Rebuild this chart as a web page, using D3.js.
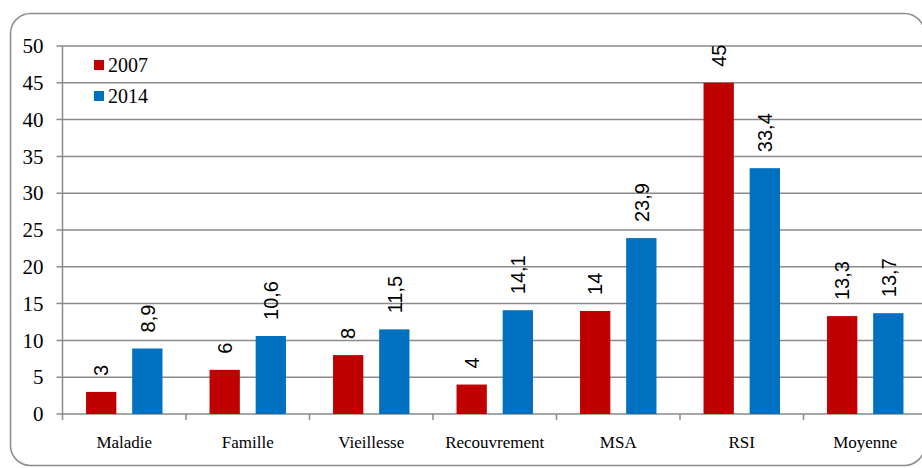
<!DOCTYPE html>
<html>
<head>
<meta charset="utf-8">
<script src="https://cdn.jsdelivr.net/npm/d3@7"></script>
<style>
  html, body { margin: 0; padding: 0; background: #fff; }
  svg { display: block; }
</style>
</head>
<body>
<script>
const categories = ["Maladie", "Famille", "Vieillesse", "Recouvrement", "MSA", "RSI", "Moyenne"];
const seriesNames = ["2007", "2014"];
const values2007 = [3, 6, 8, 4, 14, 45, 13.3];
const values2014 = [8.9, 10.6, 11.5, 14.1, 23.9, 33.4, 13.7];
const labels2007 = ["3", "6", "8", "4", "14", "45", "13,3"];
const labels2014 = ["8,9", "10,6", "11,5", "14,1", "23,9", "33,4", "13,7"];
const yTicks = [0, 5, 10, 15, 20, 25, 30, 35, 40, 45, 50];
const colors = ["#C00000", "#0070C0"];

const W = 922, H = 468;
const svg = d3.select("body").append("svg").attr("width", W).attr("height", H);

// outer rounded frame
svg.append("rect")
  .attr("x", 10.5).attr("y", 13.5)
  .attr("width", 914).attr("height", 452)
  .attr("rx", 20).attr("ry", 20)
  .attr("fill", "#fff")
  .attr("stroke", "#8c8c8c").attr("stroke-width", 1.5);

const x0 = 62.5, x1 = 927, yTop = 46, yBot = 414;
const x = d3.scaleBand().domain(categories).range([x0, x1]);
const xs = d3.scaleBand().domain(seriesNames).range([0, x.bandwidth()]).paddingInner(0.343).paddingOuter(0.51);
const y = d3.scaleLinear().domain([0, 50]).range([yBot, yTop]);
const gridColor = "#8a8a8a";

// gridlines with outer ticks
svg.append("g").selectAll("line")
  .data(yTicks).join("line")
  .attr("x1", x0 - 6).attr("x2", W)
  .attr("y1", d => y(d)).attr("y2", d => y(d))
  .attr("stroke", gridColor).attr("stroke-width", 1.5);

// y tick labels
svg.append("g").selectAll("text")
  .data(yTicks).join("text")
  .attr("x", x0 - 19)
  .attr("y", d => y(d))
  .attr("dy", "0.34em")
  .attr("text-anchor", "end")
  .attr("fill", "#000")
  .attr("font-family", "Liberation Serif")
  .attr("font-size", 21)
  .text(d => d);

// y axis line
svg.append("line")
  .attr("x1", x0).attr("x2", x0)
  .attr("y1", y(50)).attr("y2", y(0) + 6)
  .attr("stroke", gridColor).attr("stroke-width", 1.5);

// category boundary ticks
svg.append("g").selectAll("line")
  .data(categories.slice(1)).join("line")
  .attr("x1", d => x(d)).attr("x2", d => x(d))
  .attr("y1", yBot).attr("y2", yBot + 6)
  .attr("stroke", gridColor).attr("stroke-width", 1.5);

// category labels
svg.append("g").selectAll("text")
  .data(categories).join("text")
  .attr("x", d => x(d) + x.bandwidth() / 2)
  .attr("y", yBot + 34)
  .attr("text-anchor", "middle")
  .attr("fill", "#000")
  .attr("font-family", "Liberation Serif")
  .attr("font-size", 17)
  .text(d => d);

// bars
const data = categories.map((c, i) => ({
  cat: c,
  series: [
    { name: seriesNames[0], value: values2007[i], label: labels2007[i], color: colors[0] },
    { name: seriesNames[1], value: values2014[i], label: labels2014[i], color: colors[1] }
  ]
}));

const groups = svg.append("g").selectAll("g")
  .data(data).join("g")
  .attr("transform", d => `translate(${x(d.cat)},0)`);

groups.selectAll("rect")
  .data(d => d.series).join("rect")
  .attr("x", d => xs(d.name))
  .attr("width", xs.bandwidth())
  .attr("y", d => y(d.value))
  .attr("height", d => y(0) - y(d.value))
  .attr("fill", d => d.color);

groups.selectAll("text")
  .data(d => d.series).join("text")
  .attr("transform", d => `translate(${xs(d.name) + xs.bandwidth() / 2},${y(d.value) - 16}) rotate(-90)`)
  .attr("dy", "0.36em")
  .attr("text-anchor", "start")
  .attr("fill", "#000")
  .attr("font-family", "Liberation Sans")
  .attr("font-size", 20)
  .text(d => d.label);

// legend
const legend = svg.append("g").selectAll("g")
  .data(seriesNames).join("g")
  .attr("transform", (d, i) => `translate(94,${60 + i * 31})`);
legend.append("rect")
  .attr("width", 10).attr("height", 10)
  .attr("fill", (d, i) => colors[i]);
legend.append("text")
  .attr("x", 14).attr("y", 12)
  .attr("fill", "#000")
  .attr("font-family", "Liberation Serif")
  .attr("font-size", 20)
  .text(d => d);
</script>
</body>
</html>
